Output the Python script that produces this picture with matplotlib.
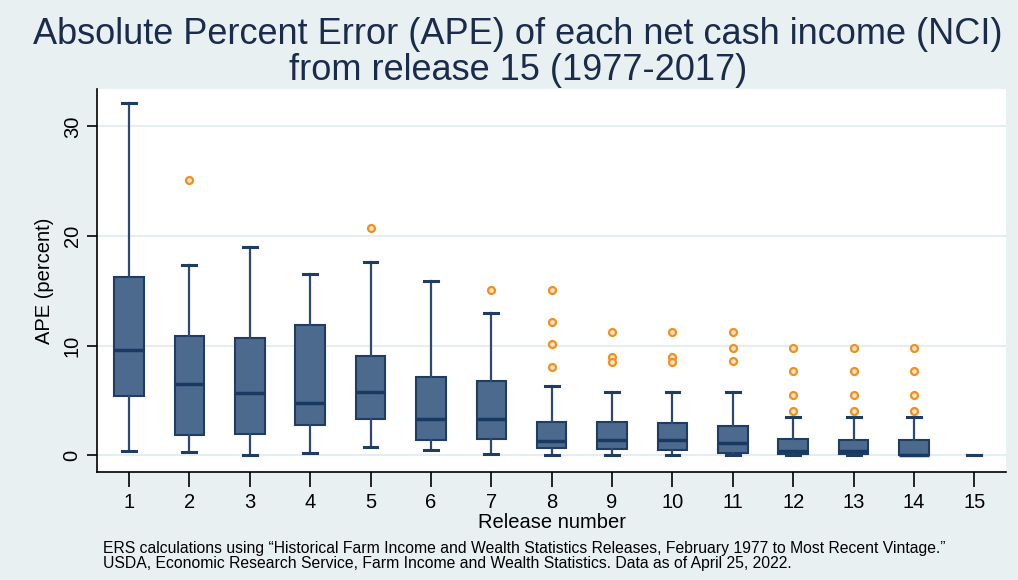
import numpy as np
import matplotlib
matplotlib.use('Agg')
import matplotlib.pyplot as plt

plt.rcParams['font.family'] = ['Liberation Sans', 'DejaVu Sans']

# Box plot summary (APE, percent) for releases 1..15
releases = list(range(1, 16))
whis_lo = [0.4, 0.34, 0.0, 0.18, 0.8, 0.49, 0.15, 0.0, 0.0, 0.0, 0.05, 0.0, 0.0, 0.0, 0.0]
q1 = [5.38, 1.83, 1.99, 2.8, 3.3, 1.44, 1.5, 0.67, 0.55, 0.46, 0.18, 0.15, 0.12, 0.0, 0.0]
medians = [9.6, 6.5, 5.72, 4.77, 5.75, 3.27, 3.33, 1.35, 1.44, 1.38, 1.1, 0.43, 0.4, 0.0, 0.0]
q3 = [16.27, 10.9, 10.67, 11.9, 9.08, 7.18, 6.79, 3.0, 3.0, 2.94, 2.66, 1.47, 1.44, 1.38, 0.0]
whis_hi = [32.1, 17.4, 19.0, 16.5, 17.6, 15.9, 12.96, 6.36, 5.75, 5.75, 5.75, 3.52, 3.52, 3.52, 0.0]
outliers = [
    [],
    [25.1],
    [],
    [],
    [20.7],
    [],
    [15.1],
    [15.07, 12.17, 10.18, 8.07],
    [11.26, 8.93, 8.53],
    [11.26, 8.93, 8.53],
    [11.26, 9.75, 8.6],
    [9.75, 7.68, 5.53, 4.06],
    [9.75, 7.68, 5.53, 4.06],
    [9.75, 7.68, 5.53, 4.06],
    [],
]

title = 'Absolute Percent Error (APE) of each net cash income (NCI)\nfrom release 15 (1977-2017)'
note = ('ERS calculations using \u201cHistorical Farm Income and Wealth Statistics Releases, February 1977 to Most Recent Vintage.\u201d\n'
        'USDA, Economic Research Service, Farm Income and Wealth Statistics. Data as of April 25, 2022.')

bg = '#e9f0f2'
navy = '#1a2b4c'
box_fill = '#4b6a8d'
box_edge = '#1f3c63'
orange = '#f0901f'

stats = []
for i in range(len(releases)):
    stats.append(dict(med=medians[i], q1=q1[i], q3=q3[i],
                      whislo=whis_lo[i], whishi=whis_hi[i], fliers=outliers[i]))

fig = plt.figure(figsize=(10.18, 5.8), dpi=100, facecolor=bg)
ax = fig.add_axes([0.0953, 0.1862, 0.893, 0.6604])
ax.set_facecolor('white')

for yv in [0, 10, 20, 30]:
    ax.axhline(yv, color='#e6edf0', lw=1.5, zorder=0)

parts = ax.bxp(stats, positions=releases, widths=0.49, patch_artist=True,
               capwidths=0.23, manage_ticks=False,
               boxprops=dict(facecolor=box_fill, edgecolor=box_edge, linewidth=1.5),
               medianprops=dict(color='#183a62', linewidth=2.5),
               whiskerprops=dict(color='#2c4a70', linewidth=1.6),
               capprops=dict(color=box_edge, linewidth=2.2),
               flierprops=dict(marker='o', markersize=5, markerfacecolor='#fbe3c4',
                               markeredgecolor=orange, markeredgewidth=1.6,
                               linestyle='none'))

# a box with no spread shows only its cap line
for i in range(len(releases)):
    if q1[i] == q3[i]:
        parts['boxes'][i].set_visible(False)
        parts['medians'][i].set_visible(False)

ax.set_xlim(0.47, 15.525)
ax.set_ylim(-1.52, 33.42)
ax.set_xticks(releases)
ax.set_xticklabels([str(r) for r in releases])
ax.set_yticks([0, 10, 20, 30])
ax.set_yticklabels(['0', '10', '20', '30'], rotation=90, va='center')

for s in ['top', 'right']:
    ax.spines[s].set_visible(False)
for s in ['left', 'bottom']:
    ax.spines[s].set_color('black')
    ax.spines[s].set_linewidth(1.2)

ax.tick_params(axis='x', length=11, width=1.2, labelsize=14.5, pad=4, colors='black')
ax.tick_params(axis='y', length=7, width=1.2, labelsize=14.5, pad=4, colors='black')
ax.set_xlabel('Release number', fontsize=14.5, labelpad=1)
ax.set_ylabel('APE (percent)', fontsize=14.5, labelpad=6)

fig.text(0.509, 0.971, title, ha='center', va='top', fontsize=26, color=navy,
         linespacing=1.05)
fig.text(0.101, 0.068, note, ha='left', va='top', fontsize=11.35, color='black',
         linespacing=1.0)

fig.savefig('out.png', dpi=100, facecolor=bg)
